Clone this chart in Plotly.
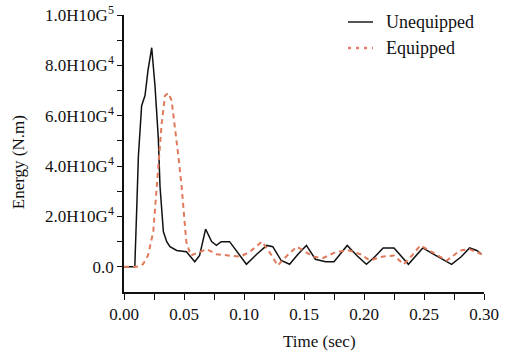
import plotly.graph_objects as go

# Data (time in s, energy in N.m)
t_uneq = [0, 0.009, 0.0106, 0.012, 0.0147, 0.0175, 0.020, 0.0231, 0.0258, 0.0286, 0.030,
          0.0328, 0.0356, 0.0383, 0.0439, 0.052, 0.059, 0.063, 0.068, 0.073, 0.077, 0.081,
          0.088, 0.094, 0.102, 0.1106, 0.119, 0.124, 0.131, 0.138, 0.145, 0.152, 0.1595,
          0.168, 0.175, 0.186, 0.194, 0.202, 0.209, 0.216, 0.225, 0.237, 0.249, 0.256,
          0.265, 0.273, 0.281, 0.288, 0.294, 0.298]
e_uneq = [0, 0, 23000, 44000, 64000, 68000, 78000, 87000, 72000, 51000, 32000,
          14000, 10000, 8000, 6500, 6000, 2000, 4500, 15000, 10000, 8500, 10000,
          10000, 6000, 1000, 5000, 8500, 8000, 2500, 1000, 5000, 8500, 3000,
          2000, 2000, 8500, 4500, 1000, 4000, 7500, 7500, 1000, 7500, 5500,
          3000, 1000, 4000, 7500, 6500, 5000]

t_eq = [0, 0.0106, 0.0158, 0.020, 0.0244, 0.0272, 0.0294, 0.0314, 0.0342, 0.037, 0.0397,
        0.0425, 0.0453, 0.048, 0.050, 0.0519, 0.0556, 0.063, 0.069, 0.0772, 0.0856, 0.0967,
        0.105, 0.115, 0.1231, 0.128, 0.136, 0.144, 0.151, 0.158, 0.166, 0.177, 0.188,
        0.197, 0.205, 0.215, 0.225, 0.233, 0.240, 0.247, 0.258, 0.269, 0.280, 0.288, 0.298]
e_eq = [0, 0, 1000, 4500, 14000, 30000, 44000, 57000, 68000, 69000, 66000,
        56000, 44000, 32000, 19000, 10000, 4500, 6000, 7000, 5000, 4500, 4000,
        6000, 10000, 4500, 500, 4500, 8000, 6000, 4000, 3500, 6000, 6500,
        5000, 2500, 4000, 4500, 1000, 4500, 8500, 5500, 2500, 6500, 7000, 5000]

series_names = ["Unequipped", "Equipped"]
x_tickvals = [0, 0.025, 0.05, 0.075, 0.10, 0.125, 0.15, 0.175, 0.20, 0.225, 0.25, 0.275, 0.30]
x_ticktext = ["0.00", "", "0.05", "", "0.10", "", "0.15", "", "0.20", "", "0.25", "", "0.30"]
y_tickvals = [0, 10000, 20000, 30000, 40000, 50000, 60000, 70000, 80000, 90000, 100000]
y_ticktext = ["0.0", "", "2.0H10G<sup>4</sup>", "", "4.0H10G<sup>4</sup>", "",
              "6.0H10G<sup>4</sup>", "", "8.0H10G<sup>4</sup>", "", "1.0H10G<sup>5</sup>"]

FONT = "Liberation Serif"
C_UNEQ = "#111111"
C_EQ = "#e07a5a"

fig = go.Figure()
fig.add_trace(go.Scatter(x=t_uneq, y=e_uneq, mode="lines", name=series_names[0],
                         line=dict(color=C_UNEQ, width=1.5), showlegend=False))
fig.add_trace(go.Scatter(x=t_eq, y=e_eq, mode="lines", name=series_names[1],
                         line=dict(color=C_EQ, width=2, dash="5px,4px"), showlegend=False))

# Legend drawn in paper coordinates (sample line + label)
leg_rows = [0.9747, 0.8809]
shapes = [
    dict(type="line", xref="paper", yref="paper", x0=0.6222, x1=0.6917,
         y0=leg_rows[0], y1=leg_rows[0], line=dict(color="#555555", width=2)),
    dict(type="line", xref="paper", yref="paper", x0=0.6222, x1=0.6917,
         y0=leg_rows[1], y1=leg_rows[1], line=dict(color="#f07a6a", width=2.5, dash="3px,5px")),
]
leg_ann = [
    dict(text=series_names[i], x=0.7222, y=leg_rows[i], xref="paper", yref="paper",
         xanchor="left", yanchor="middle", showarrow=False,
         font=dict(size=18, family=FONT, color="#111111"))
    for i in range(2)
]

fig.update_layout(
    width=508, height=354,
    margin=dict(l=124, r=24, t=15, b=62),
    paper_bgcolor="white", plot_bgcolor="white",
    font=dict(family=FONT, color="#111111", size=17),
    showlegend=False,
    shapes=shapes,
    xaxis=dict(range=[0, 0.3], tickvals=x_tickvals, ticktext=x_ticktext, automargin=False,
               showline=True, linecolor="#111111", linewidth=1.5,
               ticks="outside", ticklen=6, tickwidth=1.2, tickcolor="#111111",
               showgrid=False, zeroline=False, tickfont=dict(size=17, family=FONT)),
    yaxis=dict(range=[-10000, 100000], tickvals=y_tickvals, ticktext=y_ticktext, automargin=False,
               showline=True, linecolor="#111111", linewidth=1.5,
               ticks="outside", ticklen=5, tickwidth=1.2, tickcolor="#111111",
               showgrid=False, zeroline=False, tickfont=dict(size=17, family=FONT)),
    annotations=[
        dict(text="Time (sec)", x=0.5417, y=-0.1805, xref="paper", yref="paper",
             xanchor="center", yanchor="middle", showarrow=False,
             font=dict(size=17, family=FONT)),
        dict(text="Energy (N.m)", x=-0.294, y=0.469, xref="paper", yref="paper",
             xanchor="center", yanchor="middle", showarrow=False, textangle=-90,
             font=dict(size=17, family=FONT)),
    ] + leg_ann,
)

fig.write_html("out.html")
